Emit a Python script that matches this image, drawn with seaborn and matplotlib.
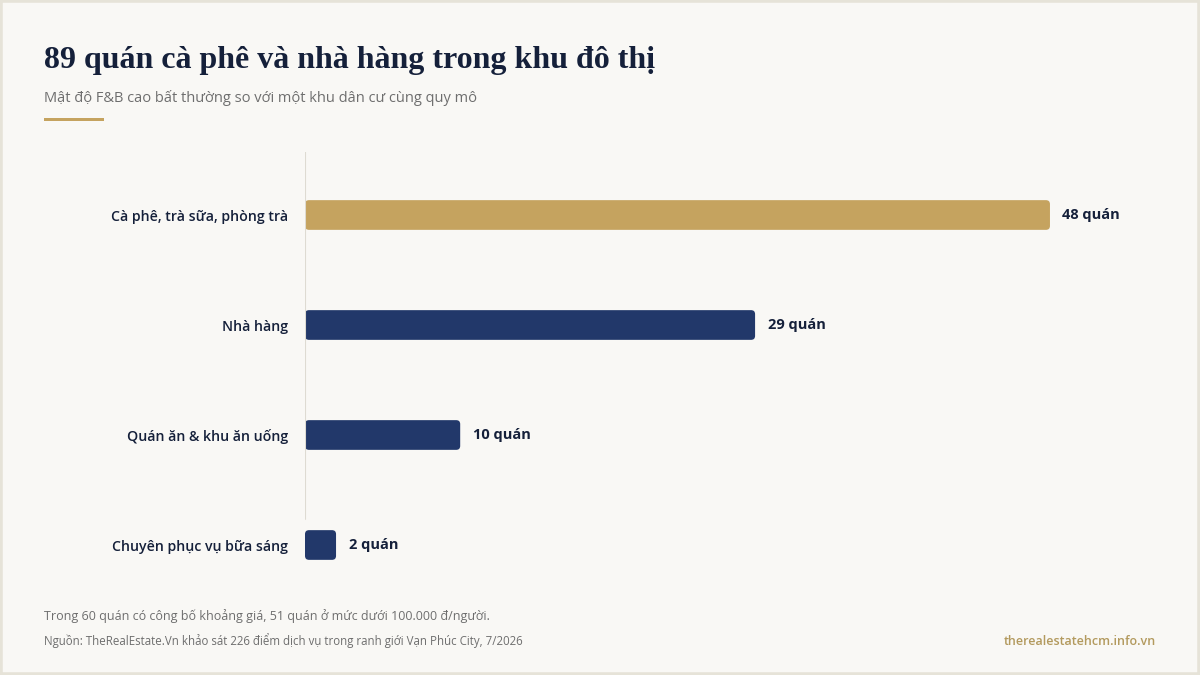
import numpy as np
import pandas as pd
import matplotlib
matplotlib.use("Agg")
import matplotlib.pyplot as plt
from matplotlib.patches import FancyBboxPatch, Rectangle
import seaborn as sns

# ------------------------------------------------------------
# Dữ liệu
# ------------------------------------------------------------
categories = [
    "Cà phê, trà sữa, phòng trà",
    "Nhà hàng",
    "Quán ăn & khu ăn uống",
    "Chuyên phục vụ bữa sáng",
]
counts = [48, 29, 10, 2]
value_labels = [f"{v} quán" for v in counts]
bar_colors = ["#C5A35F", "#22386A", "#22386A", "#22386A"]

title = "89 quán cà phê và nhà hàng trong khu đô thị"
subtitle = "Mật độ F&B cao bất thường so với một khu dân cư cùng quy mô"
note = "Trong 60 quán có công bố khoảng giá, 51 quán ở mức dưới 100.000 đ/người."
source = "Nguồn: TheRealEstate.Vn khảo sát 226 điểm dịch vụ trong ranh giới Vạn Phúc City, 7/2026"
website = "therealestatehcm.info.vn"

BG = "#F9F8F5"
INK = "#15203A"
GREY = "#6E6E6E"
GOLD = "#C5A35F"
SANS = ["Open Sans", "DejaVu Sans"]

sns.set_theme(style="white")
plt.rcParams["font.family"] = SANS

W, H = 1200, 675
fig = plt.figure(figsize=(12, 6.75), dpi=100, facecolor=BG)

# vùng trục theo pixel
ax_left, ax_right, ax_top, ax_bottom = 305, 1150, 152, 580
ax = fig.add_axes([ax_left / W, 1 - ax_bottom / H,
                   (ax_right - ax_left) / W, (ax_bottom - ax_top) / H])
ax.set_facecolor(BG)

df = pd.DataFrame({"cat": categories, "n": counts})
sns.barplot(data=df, x="n", y="cat", hue="cat", palette=bar_colors,
            saturation=1, legend=False, width=0.27, ax=ax, orient="h")

px_per_x = 15.52
px_per_y = 110
ax.set_xlim(0, (ax_right - ax_left) / px_per_x)
top_val = -(215 - ax_top) / px_per_y
bot_val = 3 + (ax_bottom - 545) / px_per_y
ax.set_ylim(bot_val, top_val)

# bo góc các thanh
r = 4 / px_per_x
for p in list(ax.patches):
    x, y = p.get_x(), p.get_y()
    w, h = p.get_width(), p.get_height()
    fb = FancyBboxPatch((x, y), w, h,
                        boxstyle=f"round,pad=0,rounding_size={r}",
                        mutation_aspect=px_per_x / px_per_y,
                        facecolor=p.get_facecolor(), edgecolor="none")
    p.remove()
    ax.add_patch(fb)

for i, (v, lab) in enumerate(zip(counts, value_labels)):
    ax.annotate(lab, xy=(v, i), xytext=(9, 0), textcoords="offset points",
                va="center", ha="left", fontsize=10.5, fontweight="bold",
                color=INK)

ax.axvline(0, ymin=(ax_bottom - 519) / (ax_bottom - ax_top), ymax=1,
           color="#DEDBD2", lw=1.5)

sns.despine(ax=ax, left=True, bottom=True)
ax.set_xticks([])
ax.set_xlabel("")
ax.set_ylabel("")
ax.tick_params(axis="y", length=0, pad=12, labelsize=10.2, labelcolor=INK)
for t in ax.get_yticklabels():
    t.set_fontweight("semibold")

# tiêu đề & chú thích
fig.text(44 / W, 1 - 68 / H, title, fontsize=23, fontweight="bold",
         color=INK, family=["Liberation Serif", "DejaVu Serif"],
         ha="left", va="baseline")
fig.text(44 / W, 1 - 102 / H, subtitle, fontsize=10.5, color=GREY,
         ha="left", va="baseline")
fig.add_artist(Rectangle((44 / W, 1 - 121 / H), 60 / W, 3 / H,
                         transform=fig.transFigure, facecolor=GOLD,
                         edgecolor="none"))
fig.text(44 / W, 1 - 620 / H, note, fontsize=9, color=GREY,
         ha="left", va="baseline")
fig.text(44 / W, 1 - 645 / H, source, fontsize=8.3, color=GREY,
         ha="left", va="baseline")
fig.text(1156 / W, 1 - 645 / H, website, fontsize=9, color="#B39A5E",
         fontweight="semibold", ha="right", va="baseline")

# khung viền
fig.add_artist(Rectangle((0, 0), 1, 1, transform=fig.transFigure,
                         facecolor="none", edgecolor="#E6E3D8", lw=4))

fig.savefig("out.png", dpi=100, facecolor=BG)
